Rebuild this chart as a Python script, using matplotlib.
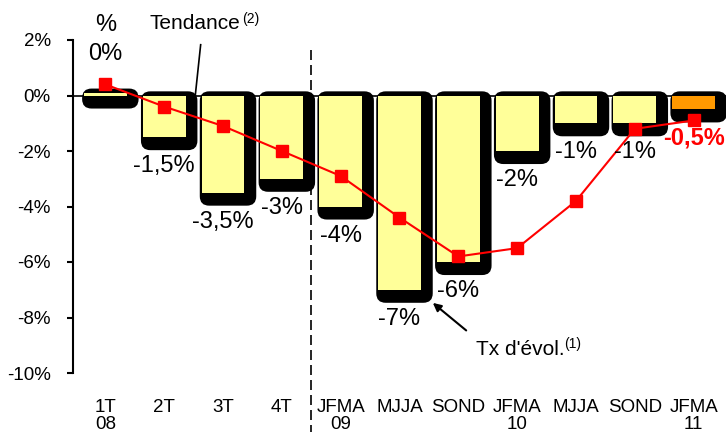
import numpy as np
import matplotlib.pyplot as plt
from matplotlib.patches import FancyBboxPatch
from matplotlib.transforms import blended_transform_factory

plt.rcParams['font.family'] = ['Liberation Sans', 'DejaVu Sans']

# data
categories = ['1T\n08', '2T', '3T', '4T', 'JFMA\n09', 'MJJA', 'SOND',
              'JFMA\n10', 'MJJA', 'SOND', 'JFMA\n11']
evolution = [0.1, -1.5, -3.5, -3.0, -4.0, -7.0, -6.0, -2.0, -1.0, -1.0, -0.5]
evolution_labels = ['0%', '-1,5%', '-3,5%', '-3%', '-4%', '-7%', '-6%',
                    '-2%', '-1%', '-1%', '-0,5%']
tendance = [0.4, -0.4, -1.1, -2.0, -2.9, -4.4, -5.8, -5.5, -3.8, -1.2, -0.9]
y_ticks = [2, 0, -2, -4, -6, -8, -10]

fig = plt.figure(figsize=(7.26, 4.32), dpi=100)
ax = fig.add_axes([73 / 726, 1 - 373 / 432, 653 / 726, 333 / 432])
x = np.arange(len(categories))
ax.set_xlim(-0.55, 10.55)
ax.set_ylim(-10, 2)

bar_w = 0.73
colors = ['#FFFF99'] * (len(x) - 1) + ['#FF9900']

# zero line
ax.axhline(0, color='black', lw=1.2, zorder=1)

# black rounded "shadow" behind each bar
for xi, v in zip(x, evolution):
    x0 = xi - bar_w / 2 - 0.03
    x1 = xi + bar_w / 2 + 0.2
    y0 = min(v, 0) - 0.47
    y1 = max(v, 0) + 0.15
    shadow = FancyBboxPatch((x0, y0), x1 - x0, y1 - y0,
                            boxstyle='round,pad=0,rounding_size=0.16',
                            mutation_aspect=2.12, facecolor='black',
                            edgecolor='none', zorder=2)
    ax.add_patch(shadow)

ax.bar(x, evolution, width=bar_w, color=colors, zorder=3)

# trend line
ax.plot(x, tendance, color='#FF0000', lw=1.5, marker='s', ms=8.5, zorder=5)

# value labels
for xi, v, lab in zip(x[1:], evolution[1:], evolution_labels[1:]):
    last = xi == x[-1]
    ax.annotate(lab, xy=(xi, v), xytext=(0, -29), textcoords='offset pixels',
                ha='center', va='center', fontsize=17,
                color='#FF0000' if last else 'black',
                fontweight='bold' if last else 'normal', zorder=6)
ax.text(0, 1.5, evolution_labels[0], ha='center', va='center', fontsize=17)
ax.text(0, 2.55, '%', ha='center', va='center', fontsize=17)

# vertical separator 2008 / 2009+
trans = blended_transform_factory(ax.transData, ax.transAxes)
ax.plot([3.5, 3.5], [0.97, -0.2], transform=trans, color='black', lw=1.2,
        dashes=(6, 3), clip_on=False)

# annotations
ax.plot([1.62, 1.53], [1.83, 0.03], color='black', lw=1.2, clip_on=False)
ax.text(2.30, 2.59, 'Tendance', ha='right', va='center', fontsize=15)
ax.annotate('(2)', xy=(2.30, 2.59), xytext=(1, 5), textcoords='offset pixels',
            ha='left', va='center', fontsize=10, annotation_clip=False)

ax.annotate('', xy=(5.53, -7.41), xytext=(6.17, -8.53),
            arrowprops=dict(arrowstyle='-|>', color='black', lw=1.5,
                            mutation_scale=12))
ax.text(7.8, -9.14, "Tx d'évol.", ha='right', va='center', fontsize=15)
ax.annotate('(1)', xy=(7.8, -9.14), xytext=(0, 5), textcoords='offset pixels',
            ha='left', va='center', fontsize=10)

# axes styling
ax.set_yticks(y_ticks)
ax.set_yticklabels([f'{t}%' for t in y_ticks])
ax.set_xticks(x)
ax.set_xticklabels(categories)
for lab in ax.get_xticklabels():
    lab.set_linespacing(1.0)
ax.tick_params(axis='y', length=4, width=1.5, pad=12, labelsize=13.5)
ax.tick_params(axis='x', length=0, pad=19, labelsize=13.5)
for s in ['top', 'right', 'bottom']:
    ax.spines[s].set_visible(False)
ax.spines['left'].set_linewidth(1.5)

fig.savefig('out.png', dpi=100)
